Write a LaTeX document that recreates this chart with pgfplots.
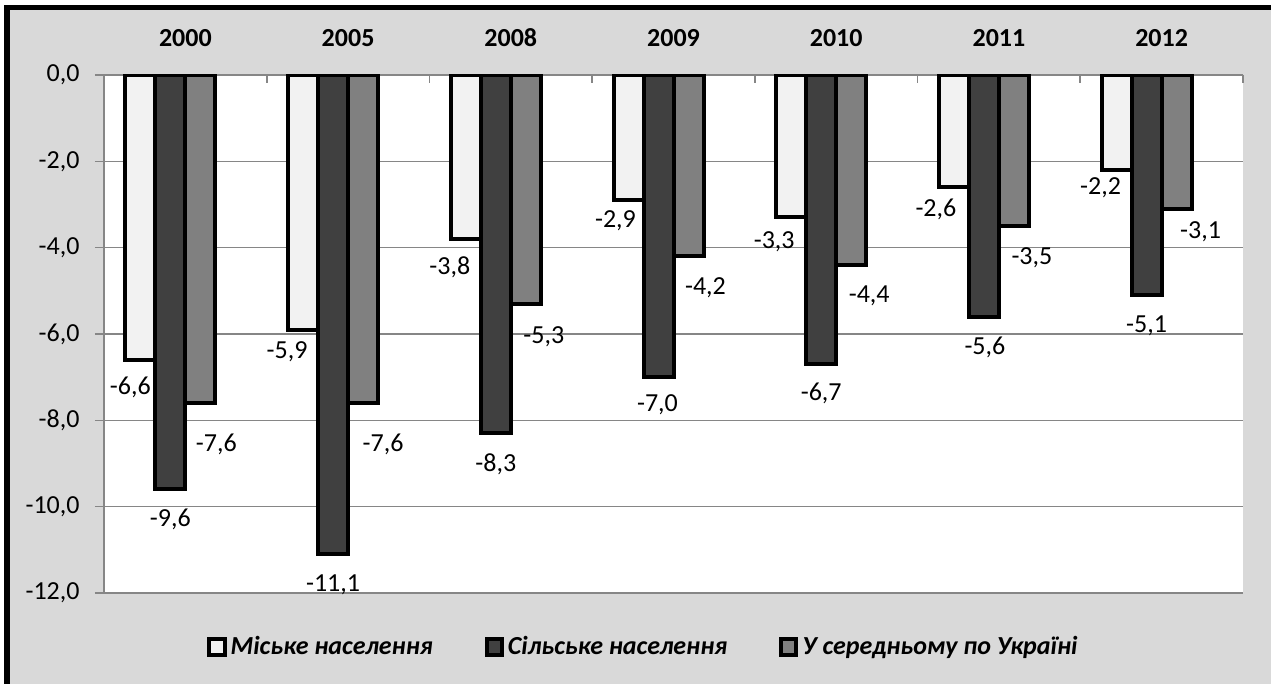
\documentclass[border=0pt]{standalone}
\usepackage{pgfplots}
\pgfplotsset{compat=1.18}
\usepackage{pgfplotstable}
\usepackage{fontspec}
\setmainfont{Carlito}
\definecolor{bg}{RGB}{217,217,217}
\definecolor{cl}{RGB}{242,242,242}
\definecolor{cd}{RGB}{64,64,64}
\definecolor{cm}{RGB}{128,128,128}
\definecolor{gridc}{RGB}{134,134,134}
\pgfkeys{/pgf/number format/.cd, fixed, fixed zerofill, precision=1, use comma, assume math mode=true}

% x = category index, y = value, dx/dy = label offsets (pt)
\pgfplotstableread{
x y dx dy
0 -6.6 -5 -13.5
1 -5.9 -8 -11
2 -3.8 -8 -14
3 -2.9 -6.5 -10.5
4 -3.3 -8.5 -12
5 -2.6 -9 -11
6 -2.2 -8 -9
}\urban
\pgfplotstableread{
x y dx dy
0 -9.6 0 -15
1 -11.1 0 -15.5
2 -8.3 0 -15.5
3 -7.0 -0.5 -14
4 -6.7 0 -14.5
5 -5.6 0.5 -15.5
6 -5.1 0 -15.5
}\rural
\pgfplotstableread{
x y dx dy
0 -7.6 8 -20.5
1 -7.6 10 -20.5
2 -5.3 9 -16.5
3 -4.2 8.5 -15.5
4 -4.4 9 -15.5
5 -3.5 9 -16
6 -3.1 12 -11.5
}\ukraine

\pgfplotsset{
  lbl/.style={
    nodes near coords,
    visualization depends on={\thisrow{dx}\as\lblx},
    visualization depends on={\thisrow{dy}\as\lbly},
    every node near coord/.append style={anchor=center, xshift=\lblx pt, yshift=\lbly pt}
  }
}

\begin{document}
\begin{tikzpicture}
\fill[white] (0,0) rectangle (635.5pt,342pt);
\fill[bg] (5pt,0) rectangle (635.5pt,337pt);
\fill[black] (2pt,0) rectangle (5pt,339.5pt);
\fill[black] (2pt,337pt) rectangle (635.5pt,339.5pt);
\begin{axis}[
  at={(52pt,45.5pt)}, anchor=south west,
  width=569.5pt, height=259pt, scale only axis,
  xmin=-0.5, xmax=6.5, ymin=-12, ymax=0,
  axis x line=top, axis y line=left,
  axis line style={-, draw=gridc, line width=0.8pt},
  axis background/.style={fill=white},
  ybar, bar width=15pt,
  xtick={0,...,6},
  xticklabels={2000,2005,2008,2009,2010,2011,2012},
  xticklabel pos=upper,
  xticklabel style={font=\fontsize{13}{15}\selectfont\bfseries, yshift=10.5pt},
  minor xtick={-0.5,0.5,...,6.5},
  ytick={-12,-10,...,0},
  yticklabel style={font=\fontsize{13}{15}\selectfont, xshift=-8.7pt},
  ymajorgrids,
  major grid style={draw=gridc, line width=0.6pt},
  tick align=inside,
  major tick length=4.5pt, minor tick length=4pt,
  major x tick style={draw=none},
  major y tick style={draw=gridc, line width=0.8pt, xshift=-4.5pt},
  minor x tick style={draw=gridc, line width=0.8pt},
  every node near coord/.append style={font=\fontsize{13}{15}\selectfont, text=black},
  legend style={at={(0.4745,-0.1042)}, anchor=center, draw=none, fill=none,
    legend columns=3, font=\fontsize{13}{15}\selectfont\bfseries\itshape,
    /tikz/every even column/.append style={column sep=24pt}},
]
\addplot[fill=cl, draw=black, line width=2pt, bar shift=-22.5pt, lbl,
  legend image code/.code={\draw[fill=cl,draw=black,line width=2pt] (0pt,-3.8pt) rectangle (7.6pt,3.8pt);}]
  table[x=x,y=y]{\urban};
\addlegendentry{Міське населення}
\addplot[fill=cd, draw=black, line width=2pt, bar shift=-7.5pt, lbl,
  legend image code/.code={\draw[fill=cd,draw=black,line width=2pt] (0pt,-3.8pt) rectangle (7.6pt,3.8pt);}]
  table[x=x,y=y]{\rural};
\addlegendentry{Сільське населення}
\addplot[fill=cm, draw=black, line width=2pt, bar shift=7.5pt, lbl,
  legend image code/.code={\draw[fill=cm,draw=black,line width=2pt] (0pt,-3.8pt) rectangle (7.6pt,3.8pt);}]
  table[x=x,y=y]{\ukraine};
\addlegendentry{У середньому по Україні}
\end{axis}
\end{tikzpicture}
\end{document}
